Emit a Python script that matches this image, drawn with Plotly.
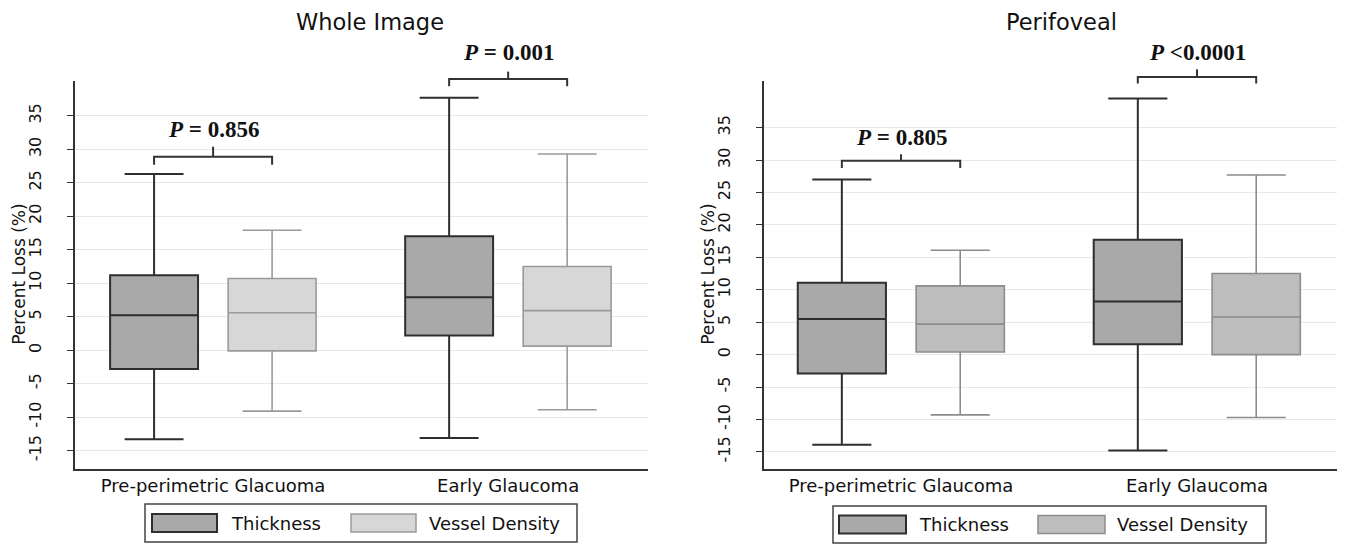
import plotly.graph_objects as go

# ---------------- data ----------------
categories_whole = ["Pre-perimetric Glacuoma", "Early Glaucoma"]
categories_peri = ["Pre-perimetric Glaucoma", "Early Glaucoma"]

# Whole Image - Thickness
whole_thk_q1 = [-2.8, 2.2]
whole_thk_med = [5.2, 7.9]
whole_thk_q3 = [11.2, 17.0]
whole_thk_lo = [-13.3, -13.1]
whole_thk_hi = [26.3, 37.7]
# Whole Image - Vessel Density
whole_vd_q1 = [-0.1, 0.6]
whole_vd_med = [5.6, 5.9]
whole_vd_q3 = [10.7, 12.5]
whole_vd_lo = [-9.1, -8.9]
whole_vd_hi = [17.9, 29.3]

# Perifoveal - Thickness
peri_thk_q1 = [-2.9, 1.6]
peri_thk_med = [5.5, 8.2]
peri_thk_q3 = [11.1, 17.7]
peri_thk_lo = [-13.9, -14.8]
peri_thk_hi = [27.0, 39.5]
# Perifoveal - Vessel Density
peri_vd_q1 = [0.4, 0.0]
peri_vd_med = [4.7, 5.8]
peri_vd_q3 = [10.6, 12.5]
peri_vd_lo = [-9.3, -9.7]
peri_vd_hi = [16.1, 27.7]

p_whole = ["<b><i>P</i> = 0.856</b>", "<b><i>P</i> = 0.001</b>"]
p_peri = ["<b><i>P</i> = 0.805</b>", "<b><i>P</i> &lt;0.0001</b>"]
# bracket levels (data units): horizontal bar, hook end, centre tip, label
br_whole = [(28.9, 27.7, 30.4, 32.9), (40.5, 39.4, 41.6, 44.4)]
br_peri = [(29.9, 28.8, 30.9, 33.5), (42.8, 41.8, 44.0, 46.6)]

tick_vals = [-15, -10, -5, 0, 5, 10, 15, 20, 25, 30, 35]
tick_text = ["-15", "-10", "-5", "0", "5", "10", "15", "20", "25", "30", "35"]

series_names = ["Thickness", "Vessel Density"]

# ---------------- layout geometry ----------------
W, H = 1345, 544
OFF = 8  # page body margin of the html page
FONT = "DejaVu Sans"
DARK = "#2e2e2e"


def pxx(p):
    return (p - OFF) / W


def pxy(p):
    return 1 - (p - OFF) / H


ydom = [pxy(468.7), pxy(81)]
panels = [
    dict(xdom=[pxx(75), pxx(648)], xr=[-0.468, 1.474], yr=[-17.7, 40.2],
         thk_fill="#a9a9a9", vd_fill="#d7d7d7", vd_line="#9a9a9a",
         title="Whole Image", title_x=370, ytitle_x=19,
         legend=(145, 577, 504, 542, 152, 217, 229, 351, 416, 427)),
    dict(xdom=[pxx(764), pxx(1337)], xr=[-0.463, 1.473], yr=[-17.6, 42.2],
         thk_fill="#a9a9a9", vd_fill="#bdbdbd", vd_line="#8c8c8c",
         title="Perifoveal", title_x=1061, ytitle_x=708,
         legend=(833, 1266, 506, 543, 839, 906, 917, 1038, 1105, 1115)),
]


def xpaper(pi, v):
    p = panels[pi]
    return p["xdom"][0] + (v - p["xr"][0]) / (p["xr"][1] - p["xr"][0]) * (p["xdom"][1] - p["xdom"][0])


def ypaper(pi, v):
    p = panels[pi]
    return ydom[0] + (v - p["yr"][0]) / (p["yr"][1] - p["yr"][0]) * (ydom[1] - ydom[0])


fig = go.Figure()

data_sets = [
    (categories_whole,
     (whole_thk_q1, whole_thk_med, whole_thk_q3, whole_thk_lo, whole_thk_hi),
     (whole_vd_q1, whole_vd_med, whole_vd_q3, whole_vd_lo, whole_vd_hi)),
    (categories_peri,
     (peri_thk_q1, peri_thk_med, peri_thk_q3, peri_thk_lo, peri_thk_hi),
     (peri_vd_q1, peri_vd_med, peri_vd_q3, peri_vd_lo, peri_vd_hi)),
]

for pi, (cats, thk, vd) in enumerate(data_sets):
    xa = "x" if pi == 0 else "x2"
    ya = "y" if pi == 0 else "y2"
    p = panels[pi]
    for si, (stats, fill, lc, lw) in enumerate([
        (thk, p["thk_fill"], DARK, 2),
        (vd, p["vd_fill"], p["vd_line"], 1.6),
    ]):
        q1, med, q3, lo, hi = stats
        fig.add_trace(go.Box(
            x=cats, q1=q1, median=med, q3=q3, lowerfence=lo, upperfence=hi,
            name=series_names[si], fillcolor=fill,
            line=dict(color=lc, width=lw), whiskerwidth=0.67,
            boxpoints=False, showlegend=False, hoverinfo="skip",
            alignmentgroup=f"panel{pi}", offsetgroup=f"s{si}",
            xaxis=xa, yaxis=ya,
        ))

shapes = []
annotations = []

for pi in range(2):
    p = panels[pi]
    brs = br_whole if pi == 0 else br_peri
    ptxt = p_whole if pi == 0 else p_peri
    for ci in range(2):
        hb, he, tip, lab = brs[ci]
        x0 = xpaper(pi, ci - 0.2)
        x1 = xpaper(pi, ci + 0.2)
        xm = xpaper(pi, ci)
        shapes.append(dict(
            type="path", xref="paper", yref="paper",
            path=f"M {x0},{ypaper(pi, he)} L {x0},{ypaper(pi, hb)} L {x1},{ypaper(pi, hb)} L {x1},{ypaper(pi, he)}",
            line=dict(color="#333333", width=2)))
        shapes.append(dict(
            type="line", xref="paper", yref="paper",
            x0=xm, x1=xm, y0=ypaper(pi, hb), y1=ypaper(pi, tip),
            line=dict(color="#333333", width=2)))
        annotations.append(dict(
            text=ptxt[ci], xref="paper", yref="paper", x=xm, y=ypaper(pi, lab),
            xanchor="center", yanchor="middle", showarrow=False,
            font=dict(family="Liberation Serif", size=23, color="#111111")))

    # panel title
    annotations.append(dict(
        text=p["title"], xref="paper", yref="paper", x=pxx(p["title_x"]), y=pxy(22),
        xanchor="center", yanchor="middle", showarrow=False,
        font=dict(family=FONT, size=22.5, color="#111111")))
    # y title
    annotations.append(dict(
        text="Percent Loss (%)", xref="paper", yref="paper", x=pxx(p["ytitle_x"]),
        y=(ydom[0] + ydom[1]) / 2, textangle=-90,
        xanchor="center", yanchor="middle", showarrow=False,
        font=dict(family=FONT, size=17, color="#111111")))

    # legend (drawn as a key box)
    bx0, bx1, by0, by1, s1x0, s1x1, t1x, s2x0, s2x1, t2x = p["legend"]
    cy = (by0 + by1) / 2
    shapes.append(dict(type="rect", xref="paper", yref="paper",
                       x0=pxx(bx0), x1=pxx(bx1), y0=pxy(by0), y1=pxy(by1),
                       line=dict(color="#444444", width=1.5), fillcolor="white"))
    shapes.append(dict(type="rect", xref="paper", yref="paper",
                       x0=pxx(s1x0), x1=pxx(s1x1), y0=pxy(cy - 9), y1=pxy(cy + 9),
                       line=dict(color=DARK, width=2), fillcolor=p["thk_fill"]))
    shapes.append(dict(type="rect", xref="paper", yref="paper",
                       x0=pxx(s2x0), x1=pxx(s2x1), y0=pxy(cy - 9), y1=pxy(cy + 9),
                       line=dict(color=p["vd_line"], width=1.5), fillcolor=p["vd_fill"]))
    for tx, name in [(t1x, series_names[0]), (t2x, series_names[1])]:
        annotations.append(dict(
            text=name, xref="paper", yref="paper", x=pxx(tx), y=pxy(cy),
            xanchor="left", yanchor="middle", showarrow=False,
            font=dict(family=FONT, size=18, color="#111111")))


def xaxis_cfg(pi, anchor):
    p = panels[pi]
    return dict(domain=p["xdom"], type="category", range=p["xr"], anchor=anchor,
                showline=True, linecolor="#333333", linewidth=1.5, ticks="",
                showgrid=False, zeroline=False, fixedrange=True,
                tickfont=dict(family=FONT, size=18, color="#111111"))


def yaxis_cfg(pi, anchor):
    p = panels[pi]
    return dict(domain=ydom, range=p["yr"], anchor=anchor,
                tickvals=tick_vals, ticktext=tick_text, tickangle=-90,
                ticks="outside", ticklen=6, tickcolor="#333333", tickwidth=1,
                showline=True, linecolor="#333333", linewidth=1.5,
                showgrid=True, gridcolor="#e8e8e8", gridwidth=1,
                zeroline=False, fixedrange=True, ticklabelstandoff=20,
                tickfont=dict(family=FONT, size=16, color="#111111"))


fig.update_layout(
    width=W, height=H,
    margin=dict(l=0, r=0, t=0, b=0),
    paper_bgcolor="white", plot_bgcolor="white",
    boxmode="group", boxgap=0.2, boxgroupgap=0.255,
    xaxis=xaxis_cfg(0, "y"), yaxis=yaxis_cfg(0, "x"),
    xaxis2=xaxis_cfg(1, "y2"), yaxis2=yaxis_cfg(1, "x2"),
    shapes=shapes, annotations=annotations,
    showlegend=False,
)

fig.write_html("out.html")
